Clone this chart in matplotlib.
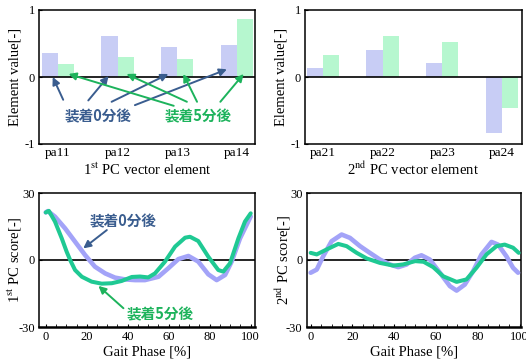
import numpy as np
import matplotlib
matplotlib.use("Agg")
import matplotlib.pyplot as plt

plt.rcParams['font.family'] = ['Liberation Serif', 'DejaVu Serif']
plt.rcParams['mathtext.fontset'] = 'stix'
plt.rcParams['axes.unicode_minus'] = False

# bar data: 1st / 2nd PC vector elements
pc1_labels = ["pa11", "pa12", "pa13", "pa14"]
pc1_min0 = [0.365, 0.615, 0.455, 0.475]
pc1_min5 = [0.19, 0.295, 0.275, 0.86]

pc2_labels = ["pa21", "pa22", "pa23", "pa24"]
pc2_min0 = [0.14, 0.41, 0.21, -0.84]
pc2_min5 = [0.325, 0.615, 0.525, -0.46]

# 1st PC score curves
s1_min0_x = [0, 1, 4.5, 9.4, 14.3, 19.2, 24, 29, 33.8, 38.7, 43.6, 48.4, 55, 59.8, 64.7,
             69.6, 74.4, 79.3, 83.4, 87.5, 90.7, 94.8, 100]
s1_min0_y = [21.3, 21.9, 19.4, 14.2, 8.2, 2.2, -3, -6, -7.9, -8.7, -9, -9, -7.5, -3.7, 0.4,
             1.8, -0.7, -6.4, -9, -6.7, -0.7, 9.7, 19.5]
s1_min5_x = [0, 1.5, 4.5, 7.8, 10.2, 11.9, 14.3, 17.6, 22.4, 27.3, 32.2, 37, 42, 46, 50, 53.3,
             58.2, 63.1, 68, 70.4, 74.4, 79.3, 84.2, 86.6, 89.9, 94, 97.2, 100]
s1_min5_y = [21.3, 22, 17.2, 9.7, 3.7, 0, -4.5, -7.5, -9.7, -10.6, -10.4, -9.4, -7.6, -7.4, -7.8, -6,
             -0.7, 6, 10, 10.4, 8.5, 1.5, -4.5, -5.2, -1.5, 9.7, 17.2, 20.9]

# 2nd PC score curves
s2_min0_x = [0, 2.9, 6, 10, 14.8, 18.8, 23.6, 28.3, 33.1, 37.9, 41.9, 45.9, 49.8, 53, 57, 61.8,
             66.6, 69.8, 73.7, 77.7, 81.7, 86.5, 89.6, 93.6, 96.8, 99.2]
s2_min0_y = [-5.7, -4.3, 1.7, 8.4, 11.4, 9.9, 6.2, 3.2, 0.2, -2, -3.2, -2, 1, 2.1, 0.2, -5.7,
             -11.7, -13.7, -11, -5, 2.5, 8.1, 6.9, 1.7, -3.5, -5.7]
s2_min5_x = [0, 2.9, 7.6, 13.2, 17.2, 22, 26.8, 33.1, 39.5, 44.2, 50, 54, 58.6, 63.4, 69.8,
             74.5, 79.3, 84.1, 88.9, 92.8, 96.8, 99.5]
s2_min5_y = [3.2, 2.5, 4.7, 7.2, 6.2, 3.2, 0.7, -1.3, -2.5, -2, -0.5, -0.8, -3.2, -7.3, -9.8,
             -8.7, -3.5, 2.5, 6.2, 6.9, 5.5, 3.2]

bar_blue = "#c8cdf5"
bar_green = "#b6f7cf"
line_blue = "#a3a3f8"
line_green = "#1fc993"
txt_blue = "#3a5d8f"
txt_green = "#1db35c"
jp = dict(family=['Noto Sans CJK JP', 'DejaVu Sans'], weight='bold', fontsize=10.5)

W, H = 526, 360
fig = plt.figure(figsize=(W / 100, H / 100), dpi=100)


def add_ax(l, r, t, b):
    return fig.add_axes([l / W, 1 - b / H, (r - l) / W, (b - t) / H])


def style(ax):
    for sp in ax.spines.values():
        sp.set_linewidth(1.1)
    ax.tick_params(direction='in', length=2, labelsize=9, pad=3)
    ax.axhline(0, color='black', lw=1.2, zorder=3)


def place_labels(ax, xl_y, yl_x):
    ax.xaxis.set_label_coords(0.5, xl_y)
    ax.xaxis.label.set_va('center')
    ax.yaxis.set_label_coords(yl_x, 0.5)
    ax.yaxis.label.set_va('center')


def bar_panel(ax, labels, v0, v5, xlab, ylab, xlim):
    style(ax)
    x = np.arange(len(labels))
    w = 0.27
    ax.bar(x - w / 2, v0, w, color=bar_blue, zorder=2)
    ax.bar(x + w / 2, v5, w, color=bar_green, zorder=2)
    ax.set_xlim(*xlim)
    ax.set_ylim(-1, 1)
    ax.set_yticks([-1, 0, 1])
    ax.set_yticklabels(["-1", "0", "1"])
    ax.set_xticks(x)
    ax.set_xticklabels(labels, fontsize=9.5)
    ax.tick_params(axis='x', length=0, pad=2)
    ax.set_xlabel(xlab, fontsize=10.5)
    ax.set_ylabel(ylab, fontsize=10.5)
    place_labels(ax, -0.19, -0.11)


def line_panel(ax, xa, ya, xb, yb, ylab, xlim):
    style(ax)
    ax.spines['bottom'].set_linewidth(1.8)
    ax.plot(xa, ya, color=line_blue, lw=3.3, solid_capstyle='round', zorder=4)
    ax.plot(xb, yb, color=line_green, lw=2.9, solid_capstyle='round', zorder=5)
    ax.set_xlim(*xlim)
    ax.set_ylim(-30, 30)
    ax.set_yticks([-30, 0, 30])
    ax.set_xticks(np.arange(0, 101, 20))
    ax.set_xticks(np.arange(0, 101, 5), minor=True)
    ax.tick_params(axis='x', which='both', direction='in', length=2.5, pad=3)
    ax.set_xlabel("Gait Phase [%]", fontsize=10.5)
    ax.set_ylabel(ylab, fontsize=10.5)
    place_labels(ax, -0.19, -0.11)


ax1 = add_ax(39, 255, 10, 144)
bar_panel(ax1, pc1_labels, pc1_min0, pc1_min5, r"1$^{\mathrm{st}}$ PC vector element",
          "Element value[-]", (-0.315, 3.3))
ax2 = add_ax(305, 521.7, 10, 144)
bar_panel(ax2, pc2_labels, pc2_min0, pc2_min5, r"2$^{\mathrm{nd}}$ PC vector element",
          "Element value[-]", (-0.30, 3.33))
ax3 = add_ax(39, 255, 193, 327)
line_panel(ax3, s1_min0_x, s1_min0_y, s1_min5_x, s1_min5_y, r"1$^{\mathrm{st}}$ PC score[-]",
           (-3.3, 102.1))
ax4 = add_ax(306.7, 521, 193, 327)
line_panel(ax4, s2_min0_x, s2_min0_y, s2_min5_x, s2_min5_y, r"2$^{\mathrm{nd}}$ PC score[-]",
           (-1.9, 100.6))

# arrows on the 1st PC bars
blue_arrows = [((0.09, -0.34), (-0.085, 0.0)), ((0.51, -0.35), (0.85, 0.015)),
               ((0.90, -0.37), (1.85, 0.045)), ((1.29, -0.42), (2.83, 0.115))]
green_arrows = [((1.94, -0.43), (0.18, 0.045)), ((2.16, -0.37), (1.15, 0.045)),
                ((2.33, -0.37), (2.10, 0.045)), ((2.72, -0.37), (3.11, 0.045))]
for tail, head in blue_arrows:
    ax1.annotate("", xy=head, xytext=tail, zorder=6,
                 arrowprops=dict(arrowstyle='-|>', color=txt_blue, lw=1.4, mutation_scale=11,
                                 shrinkA=0, shrinkB=0))
for tail, head in green_arrows:
    ax1.annotate("", xy=head, xytext=tail, zorder=6,
                 arrowprops=dict(arrowstyle='-|>', color=txt_green, lw=1.4, mutation_scale=11,
                                 shrinkA=0, shrinkB=0))
ax1.text(0.68, -0.59, "装着0分後", color=txt_blue, ha='center', va='center', **jp)
ax1.text(2.35, -0.59, "装着5分後", color=txt_green, ha='center', va='center', **jp)

# labels on the 1st PC score curves
ax3.annotate("", xy=(18.3, 5.2), xytext=(29.8, 13.4),
             arrowprops=dict(arrowstyle='-|>', color=txt_blue, lw=1.4, mutation_scale=11,
                             shrinkA=0, shrinkB=0))
ax3.text(37.7, 17.5, "装着0分後", color=txt_blue, ha='center', va='center', **jp)
ax3.annotate("", xy=(25.7, -11.6), xytext=(37.9, -21.6),
             arrowprops=dict(arrowstyle='-|>', color=txt_green, lw=1.4, mutation_scale=11,
                             shrinkA=0, shrinkB=0))
ax3.text(55.7, -24.2, "装着5分後", color=txt_green, ha='center', va='center', **jp)

fig.savefig("out.png", dpi=100)
